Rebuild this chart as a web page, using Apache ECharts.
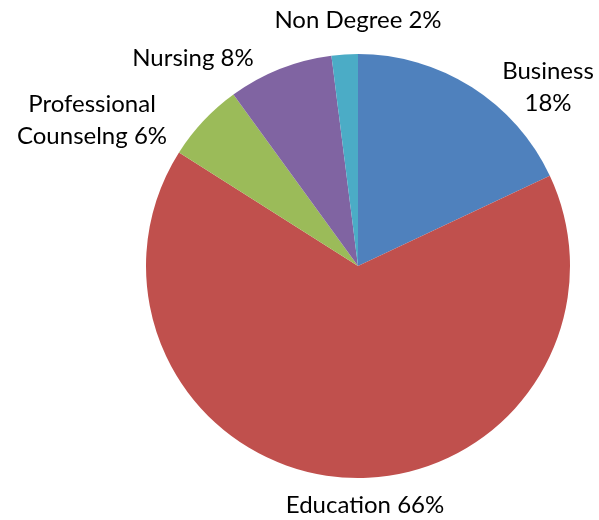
<!DOCTYPE html>
<html>
<head>
<meta charset="utf-8">
<script src="https://cdn.jsdelivr.net/npm/echarts@6/dist/echarts.min.js"></script>
<style>
  html, body { margin: 0; padding: 0; background: #fff; }
  #chart { width: 599px; height: 520px; }
</style>
</head>
<body>
<div id="chart"></div>
<script>
const categories = ["Business", "Education", "Professional\nCounselng", "Nursing", "Non Degree"];
const shares = [18, 66, 6, 8, 2];
const colors = ["#4F81BD", "#C0504D", "#9BBB59", "#8064A2", "#4BACC6"];

// label anchor points (centre of each text block), same order as categories
const labelSpots = [[548, 87], [365, 505], [92, 120], [193, 58], [358, 20]];

const chart = echarts.init(document.getElementById("chart"));

chart.setOption({
  animation: false,
  color: colors,
  series: [
    {
      type: "pie",
      center: [358, 266],
      radius: 212,
      startAngle: 90,
      clockwise: true,
      data: categories.map((name, i) => ({ name, value: shares[i] })),
      label: {
        show: true,
        position: "outside",
        formatter: (p) => {
          if (p.dataIndex === 0) return p.name + "\n" + p.value + "%";
          return p.name + " " + p.value + "%";
        },
        fontFamily: "Lato",
        fontSize: 24,
        lineHeight: 32,
        color: "#000",
        align: "center",
        overflow: "none",
        width: 300,
      },
      labelLine: { show: false },
      labelLayout: (params) => {
        const spot = labelSpots[params.dataIndex];
        return {
          x: spot[0],
          y: spot[1],
          align: "center",
          verticalAlign: "middle",
        };
      },
      emphasis: { disabled: true },
    },
  ],
});
</script>
</body>
</html>
